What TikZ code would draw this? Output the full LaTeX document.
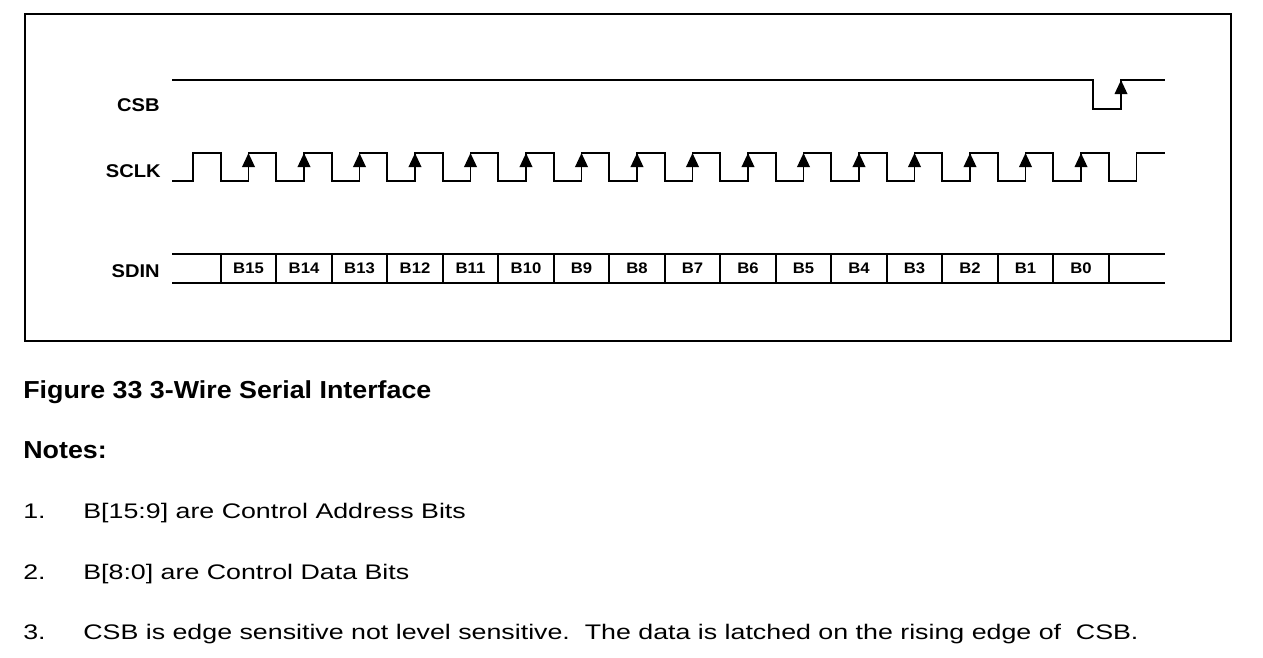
\documentclass[tikz,border=0pt]{standalone}
\usepackage{fontspec}
\setmainfont{Liberation Sans}
\newfontfamily\widefont[FakeStretch=1.09]{Liberation Sans}
\newfontfamily\notefont[FakeStretch=1.27]{Liberation Sans}
\usetikzlibrary{arrows.meta}

\begin{document}
\begin{tikzpicture}[x=0.02cm,y=-0.02cm,
    wire/.style={line width=1.1pt},
    rise/.style={line width=1.1pt,-{Triangle[length=0.28cm,width=0.25cm]}},
    signame/.style={font=\widefont\bfseries\fontsize{10.5}{12}\selectfont,anchor=base east,inner sep=0pt},
    bitname/.style={font=\widefont\bfseries\fontsize{8.7}{10}\selectfont,anchor=base,inner sep=0pt},
    head/.style={font=\widefont\bfseries\fontsize{14}{16}\selectfont,anchor=base west,inner sep=0pt},
    txt/.style={font=\notefont\fontsize{12}{14}\selectfont,anchor=base west,inner sep=0pt}]
    \useasboundingbox (0,0) rectangle (1263,657);
    \draw[wire] (25,14) rectangle (1231,341); % frame
    % signal names
    \node[signame] (csb) at (160,111) {CSB};
    \node[signame] (sclk) at (161,177) {SCLK};
    \node[signame] (sdin) at (160,277) {SDIN};
    % chip select
    \draw[wire] (172,80) -- (1093,80) -- (1093,109) -- (1121,109) -- (1121,80) -- (1165,80); % csb
    \draw[rise] (1121,109) -- (1121,80); % latch edge
    % clock
    \draw[wire] (172,181) \foreach \k in {0,...,16} {
        -- (193+55.5*\k,181) -- (193+55.5*\k,153) -- (220.75+55.5*\k,153) -- (220.75+55.5*\k,181)}
        -- (1136.5,181) -- (1136.5,153) -- (1165,153); % sclk
    \foreach \k in {1,...,16}
        \draw[rise] (193+55.5*\k,181) -- (193+55.5*\k,153); % rising edges
    % data
    \draw[wire] (172,254) -- (1165,254); % top of bus
    \draw[wire] (172,283) -- (1165,283); % bottom of bus
    \foreach \k in {0,...,16}
        \draw[wire] (220.75+55.5*\k,254) -- (220.75+55.5*\k,283); % bit borders
    \foreach \b [count=\i from 0] in {15,14,...,0}
        \node[bitname] (b\b) at (248.5+55.5*\i,273) {B\b};
    % caption and notes
    \node[head] (caption) at (23,398) {Figure 33 3-Wire Serial Interface};
    \node[head] (notes) at (23,458) {Notes:};
    \node[txt] (n1) at (23,518) {1.};
    \node[txt] (t1) at (83,518) {B[15:9] are Control Address Bits};
    \node[txt] (n2) at (23,579) {2.};
    \node[txt] (t2) at (83,579) {B[8:0] are Control Data Bits};
    \node[txt] (n3) at (23,639) {3.};
    \node[txt] (t3) at (83,639) {CSB is edge sensitive not level sensitive.\ \ The data is latched on the rising edge of\ \ CSB.};
\end{tikzpicture}
\end{document}
